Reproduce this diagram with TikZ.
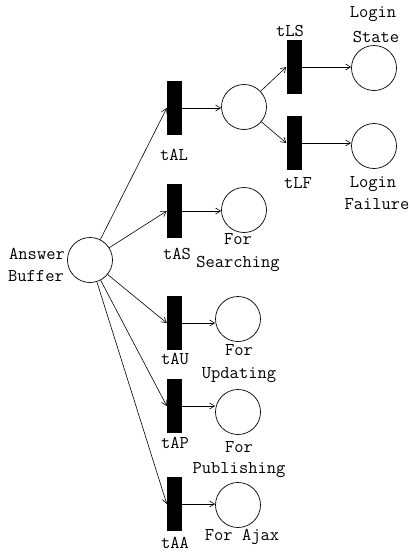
\documentclass[tikz,border=0pt]{standalone}
\usetikzlibrary{arrows.meta}
\begin{document}
\begin{tikzpicture}[x=1pt,y=-1pt,
  place/.style={circle,draw,line width=0.7pt,minimum size=45pt,inner sep=0pt},
  trans/.style={rectangle,fill=black,minimum width=15pt,minimum height=54pt,inner sep=0pt},
  lbl/.style={font=\fontsize{18}{20}\selectfont\ttfamily,inner sep=0pt,anchor=center},
  arc/.style={line width=0.6pt,-{Straight Barb[length=5pt,width=6pt]}}]
\useasboundingbox (0,0) rectangle (410,552);
% places
\node[place] (ab) at (90,260) {};
\node[place] (pl) at (244,107) {};
\node[place] (ls) at (374,68) {};
\node[place] (lf) at (374,146) {};
\node[place] (ps) at (244,210) {};
\node[place] (pu) at (238,319) {};
\node[place] (pp) at (238,412) {};
\node[place] (pa) at (238,505) {};
% transitions
\node[trans] (tal) at (174.5,108) {};
\node[trans] (tls) at (294,67) {};
\node[trans] (tlf) at (294,143) {};
\node[trans] (tas) at (174.5,211) {};
\node[trans] (tau) at (174.5,323) {};
\node[trans] (tap) at (174.5,406) {};
\node[trans] (taa) at (174.5,504) {};
% labels
\node[lbl] (lab1) at (37,254) {Answer};
\node[lbl] (lab2) at (36,276) {Buffer};
\node[lbl] (ltal) at (174,155) {tAL};
\node[lbl] (ltls) at (290,31) {tLS};
\node[lbl] (ltlf) at (298,183) {tLF};
\node[lbl] (lls1) at (373,14) {Login};
\node[lbl] (lls2) at (376,37) {State};
\node[lbl] (llf1) at (373,184) {Login};
\node[lbl] (llf2) at (377,204) {Failure};
\node[lbl] (ltas) at (177,254) {tAS};
\node[lbl] (lps1) at (238,239) {For};
\node[lbl] (lps2) at (238,264) {Searching};
\node[lbl] (ltau) at (175,359) {tAU};
\node[lbl] (lpu1) at (239,350) {For};
\node[lbl] (lpu2) at (239,375) {Updating};
\node[lbl] (ltap) at (175,443) {tAP};
\node[lbl] (lpp1) at (239,447) {For};
\node[lbl] (lpp2) at (239,470) {Publishing};
\node[lbl] (ltaa) at (175,543) {tAA};
\node[lbl] (lpa) at (242,537) {For Ajax};
% arcs into the transitions
\draw[arc] (ab) -- (tal.west);
\draw[arc] (ab) -- (tas.west);
\draw[arc] (ab) -- (tau.west);
\draw[arc] (ab) -- (tap.west);
\draw[arc] (ab) -- (taa.west);
\draw[arc] (pl) -- (tls.west);
\draw[arc] (pl) -- (tlf.west);
% horizontal arcs out of the transitions
\draw[arc] (tal.east) -- (tal.east -| pl.west);
\draw[arc] (tls.east) -- (tls.east -| ls.west);
\draw[arc] (tlf.east) -- (tlf.east -| lf.west);
\draw[arc] (tas.east) -- (tas.east -| ps.west);
\draw[arc] (tau.east) -- (tau.east -| pu.west);
\draw[arc] (tap.east) -- (tap.east -| pp.west);
\draw[arc] (taa.east) -- (taa.east -| pa.west);
\end{tikzpicture}
\end{document}
